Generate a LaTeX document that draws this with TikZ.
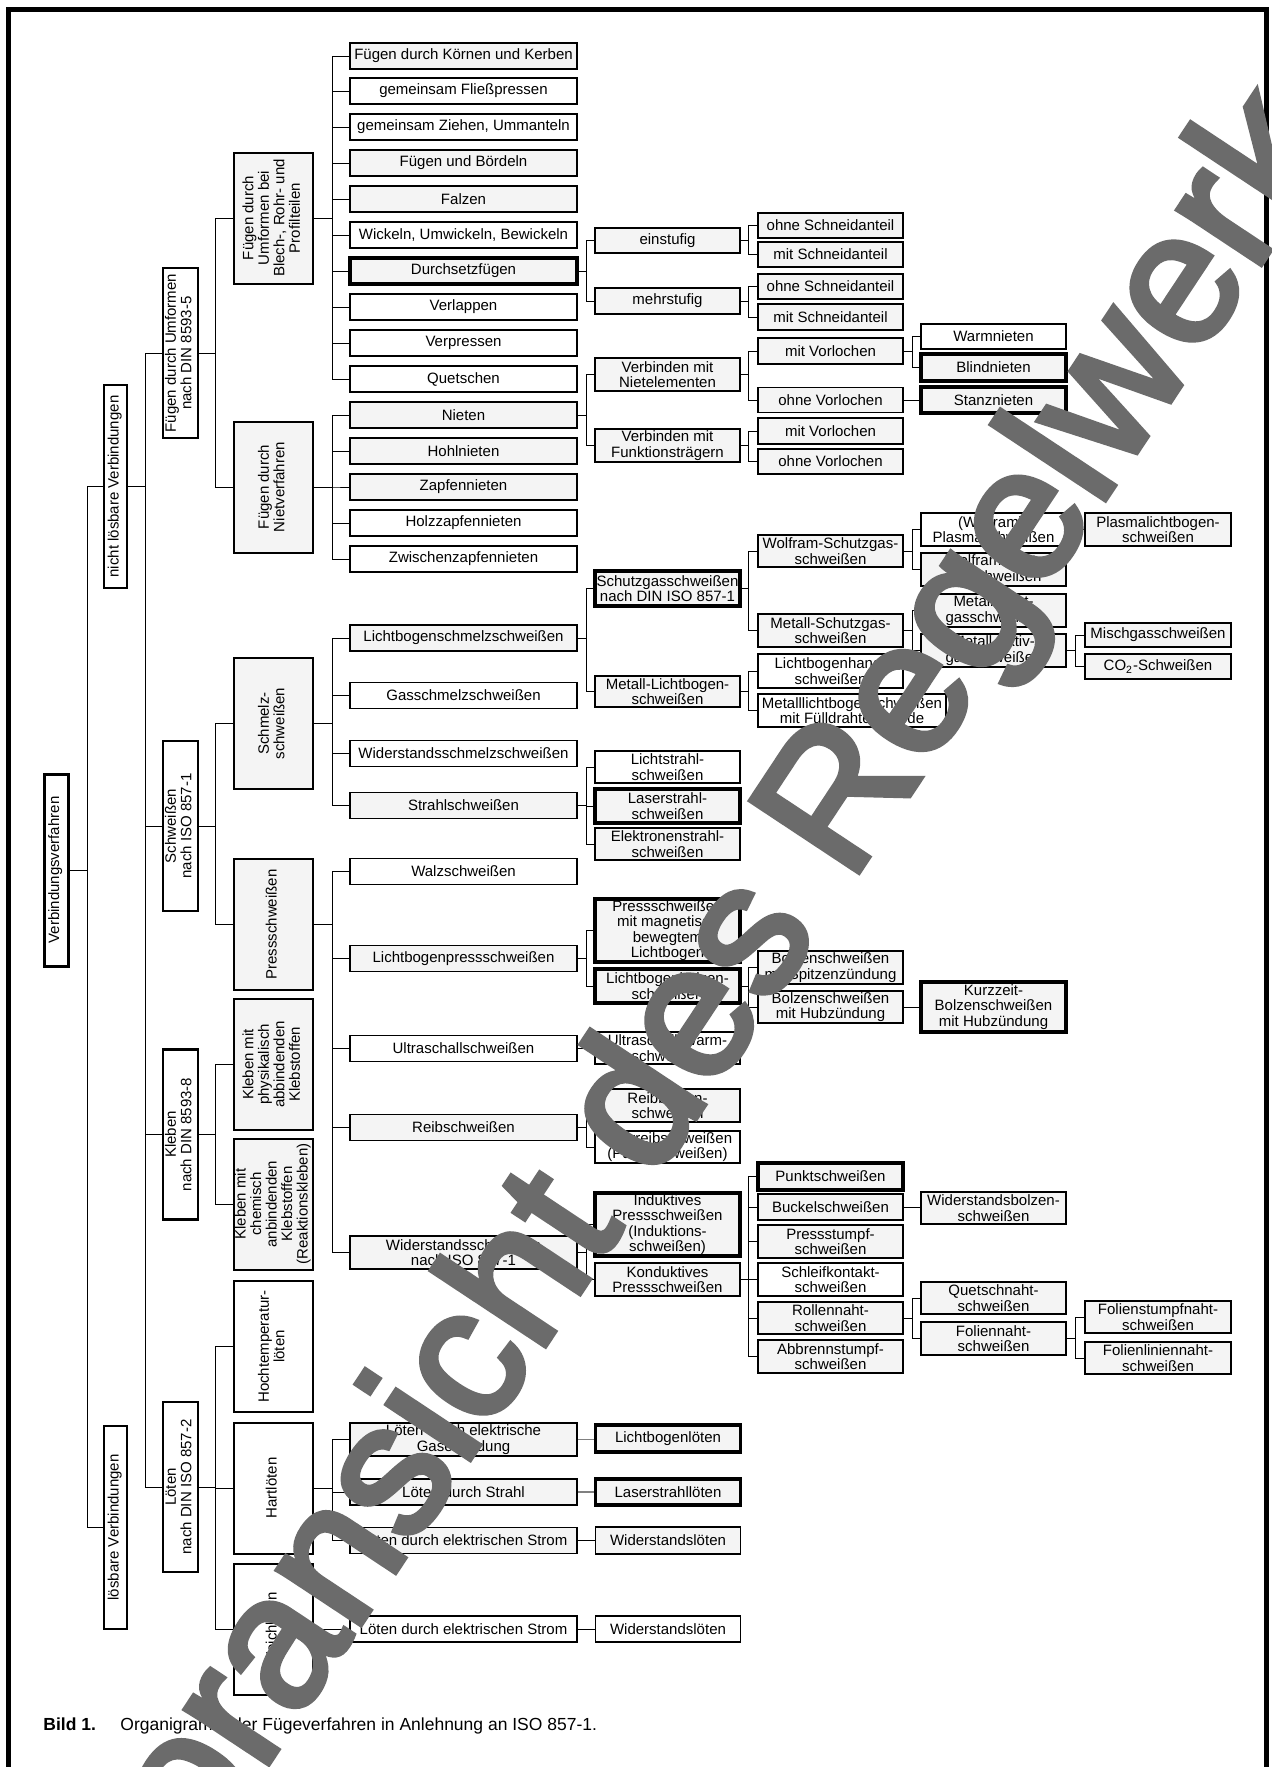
\documentclass[tikz,border=0pt]{standalone}
\usepackage{fontspec}
\setmainfont{Liberation Sans}
\newfontfamily\wmfont[FakeBold=3]{Liberation Sans}
\usepackage{graphicx}
\definecolor{gf}{HTML}{F4F4F4}
\definecolor{wm}{HTML}{6B6B6B}
\newcommand{\vt}[1]{\rotatebox{90}{\begin{tabular}{@{}c@{}}#1\end{tabular}}}
\newcommand{\cn}[3]{\draw[ln] (#1.east) -- (#1.east -| #2) |- (#3.west);}
\newcommand{\dn}[2]{\draw[ln] (#1.east) -- (#1.east -| #2.west);}
\tikzset{
 bx/.style={draw, inner sep=0pt, align=center, font=\fontsize{7.5}{7.7}\selectfont, fill=white},
 gr/.style={fill=gf},
 ca/.style={bx, line width=0.9pt, minimum width=113.5pt, minimum height=13pt},
 cb/.style={bx, line width=0.6pt, minimum width=72.5pt},
 ce/.style={bx, line width=0.6pt, minimum width=73pt},
 tk/.style={line width=1.7pt},
 grp/.style={bx, line width=1pt, minimum width=39.5pt, minimum height=65.5pt, fill=gf},
 lvtwo/.style={bx, line width=1.4pt, minimum width=17.5pt, minimum height=85pt},
 lvone/.style={bx, line width=0.6pt, minimum width=11.5pt, minimum height=101.5pt},
 ln/.style={line width=0.5pt},
 lgr/.style={line width=0.6pt, gray},
 wmk/.style={rotate=56.5, inner sep=0pt, text=wm, font=\wmfont\fontsize{94}{94}\selectfont},
}
\begin{document}
\begin{tikzpicture}[x=0.5pt,y=-0.5pt]
\path[use as bounding box] (0,0) rectangle (1272,1767);
\clip (0,0) rectangle (1272,1767);
\fill[white] (0,0) rectangle (1272,1767);
\draw[line width=2.5pt] (8.5,1800) -- (8.5,9) -- (1266,9) -- (1266,1800);

% bus coordinates
\coordinate (k0) at (87,0);
\coordinate (k1) at (145,0);
\coordinate (k2) at (215,0);
\coordinate (k3) at (332,0);
\coordinate (k4) at (586,0);
\coordinate (k5) at (748,0);
\coordinate (k6) at (912,0);
\coordinate (k7) at (1075,0);

% root and levels
\node[bx, line width=1.5pt, minimum width=12pt, minimum height=96pt] (root) at (56,870) {\vt{Verbindungsverfahren}};
\node[lvone] (nl) at (115.5,486.5) {\vt{nicht lösbare Verbindungen}};
\node[lvone] (lb) at (115.5,1527.5) {\vt{lösbare Verbindungen}};
\node[lvtwo] (fu) at (180.5,353) {\vt{Fügen durch Umformen\\nach DIN 8593-5}};
\node[lvtwo] (sw) at (180.5,826) {\vt{Schweißen\\nach ISO 857-1}};
\node[lvtwo] (kl) at (180.5,1134.5) {\vt{Kleben\\nach DIN 8593-8}};
\node[lvtwo] (lo) at (180.5,1487) {\vt{Löten\\nach DIN ISO 857-2}};

% groups
\node[grp] (g1) at (273.5,218) {\vt{Fügen durch\\Umformen bei\\Blech-, Rohr- und\\Profilteilen}};
\node[grp] (g2) at (273.5,487) {\vt{Fügen durch\\Nietverfahren}};
\node[grp] (g3) at (273.5,723.5) {\vt{Schmelz-\\schweißen}};
\node[grp] (g4) at (273.5,924.5) {\vt{Pressschweißen}};
\node[grp] (g5) at (273.5,1064.5) {\vt{Kleben mit\\physikalisch\\abbindenden\\Klebstoffen}};
\node[grp] (g6) at (273.5,1204) {\vt{Kleben mit\\chemisch\\anbindenden\\Klebstoffen\\(Reaktionskleben)}};
\node[grp, fill=white] (g7) at (273.5,1346.5) {\vt{Hochtemperatur-\\löten}};
\node[grp, fill=white] (g8) at (273.5,1488) {\vt{Hartlöten}};
\node[grp, fill=white] (g9) at (273.5,1629.5) {\vt{Weichlöten}};

% column A
\node[ca,gr] (a1) at (463.5,56) {Fügen durch Körnen und Kerben};
\node[ca] (a2) at (463.5,91) {gemeinsam Fließpressen};
\node[ca] (a3) at (463.5,127) {gemeinsam Ziehen, Ummanteln};
\node[ca,gr] (a4) at (463.5,163) {Fügen und Bördeln};
\node[ca,gr] (a5) at (463.5,199) {Falzen};
\node[ca] (a6) at (463.5,235) {Wickeln, Umwickeln, Bewickeln};
\node[ca,gr,tk] (a7) at (463.5,271) {Durchsetzfügen};
\node[ca] (a8) at (463.5,307) {Verlappen};
\node[ca] (a9) at (463.5,343) {Verpressen};
\node[ca] (a10) at (463.5,379) {Quetschen};
\node[ca,gr] (a11) at (463.5,415) {Nieten};
\node[ca,gr] (a12) at (463.5,451) {Hohlnieten};
\node[ca,gr] (a13) at (463.5,487) {Zapfennieten};
\node[ca] (a14) at (463.5,523) {Holzzapfennieten};
\node[ca] (a15) at (463.5,559) {Zwischenzapfennieten};
\node[ca,gr] (a16) at (463.5,638) {Lichtbogenschmelzschweißen};
\node[ca] (a17) at (463.5,695.5) {Gasschmelzschweißen};
\node[ca] (a18) at (463.5,753.5) {Widerstandsschmelzschweißen};
\node[ca,gr] (a19) at (463.5,805.5) {Strahlschweißen};
\node[ca] (a20) at (463.5,871.5) {Walzschweißen};
\node[ca,gr] (a21) at (463.5,958.5) {Lichtbogenpressschweißen};
\node[ca] (a22) at (463.5,1048.5) {Ultraschallschweißen};
\node[ca,gr] (a23) at (463.5,1127.5) {Reibschweißen};
\node[ca,gr,minimum height=16.5pt] (a24) at (463.5,1252.5) {Widerstandsschweißen\\nach ISO 857-1};
\node[ca,gr,minimum height=16.5pt] (a25) at (463.5,1439.5) {Löten durch elektrische\\Gasentladung};
\node[ca,gr] (a26) at (463.5,1492) {Löten durch Strahl};
\node[ca,gr] (a27) at (463.5,1540.5) {Löten durch elektrischen Strom};
\node[ca] (a28) at (463.5,1629) {Löten durch elektrischen Strom};

% column B
\node[cb,gr,minimum height=12.5pt] (b1) at (667.5,240.5) {einstufig};
\node[cb,gr,minimum height=13pt] (b2) at (667.5,301) {mehrstufig};
\node[cb,gr,minimum height=16.5pt] (b3) at (667.5,374.5) {Verbinden mit\\Nietelementen};
\node[cb,gr,minimum height=16.5pt] (b4) at (667.5,445.5) {Verbinden mit\\Funktionsträgern};
\node[cb,gr,tk,minimum height=17.5pt] (b5) at (667.5,588.5) {Schutzgasschweißen\\nach DIN ISO 857-1};
\node[cb,gr,minimum height=15.5pt] (b6) at (667.5,691.5) {Metall-Lichtbogen-\\schweißen};
\node[cb,minimum height=16pt] (b7) at (667.5,767) {Lichtstrahl-\\schweißen};
\node[cb,gr,tk,minimum height=17pt] (b8) at (667.5,806) {Laserstrahl-\\schweißen};
\node[cb,gr,minimum height=16pt] (b9) at (667.5,844) {Elektronenstrahl-\\schweißen};
\node[cb,gr,tk,minimum height=31.5pt] (b10) at (667.5,930.5) {Pressschweißen\\mit magnetisch\\bewegtem\\Lichtbogen};
\node[cb,gr,tk,minimum height=17pt] (b11) at (667.5,986) {Lichtbogenbolzen-\\schweißen};
\node[cb,minimum height=16pt] (b12) at (667.5,1048) {Ultraschall-Warm-\\schweißen};
\node[cb,gr,minimum height=16.5pt] (b13) at (667.5,1105.5) {Reibbolzen-\\schweißen};
\node[cb,minimum height=16pt] (b14) at (667.5,1147) {Rührreibschweißen\\(Punktschweißen)};
\node[cb,gr,tk,minimum height=31.5pt] (b15) at (667.5,1224.5) {Induktives\\Pressschweißen\\(Induktions-\\schweißen)};
\node[cb,gr,minimum height=16.5pt] (b16) at (667.5,1279.5) {Konduktives\\Pressschweißen};
\node[cb,gr,tk,minimum height=13.5pt] (b17) at (668,1438.5) {Lichtbogenlöten};
\node[cb,gr,tk,minimum height=13pt] (b18) at (668,1492) {Laserstrahllöten};
\node[cb,gr,line width=0.9pt,minimum height=13.5pt] (b19) at (668,1540.5) {Widerstandslöten};
\node[cb,line width=0.9pt,minimum height=13pt] (b20) at (668,1629) {Widerstandslöten};

% column C
\node[cb,gr,minimum height=12.5pt] (c1) at (830.5,225.5) {ohne Schneidanteil};
\node[cb,gr,minimum height=12.5pt] (c2) at (830.5,254.5) {mit Schneidanteil};
\node[cb,gr,minimum height=12.5pt] (c3) at (830.5,286.5) {ohne Schneidanteil};
\node[cb,gr,minimum height=13pt] (c4) at (830.5,317) {mit Schneidanteil};
\node[cb,gr,minimum height=13pt] (c5) at (830.5,351) {mit Vorlochen};
\node[cb,gr,minimum height=12.5pt] (c6) at (830.5,400) {ohne Vorlochen};
\node[cb,gr,minimum height=13pt] (c7) at (830.5,431) {mit Vorlochen};
\node[cb,gr,minimum height=12.5pt] (c8) at (830.5,461.5) {ohne Vorlochen};
\node[cb,gr,minimum height=16pt] (c9) at (830.5,551) {Wolfram-Schutzgas-\\schweißen};
\node[cb,gr,minimum height=16.5pt] (c10) at (830.5,630.5) {Metall-Schutzgas-\\schweißen};
\node[cb,minimum height=17pt] (c11) at (830.5,671) {Lichtbogenhand-\\schweißen};
\node[cb,minimum width=94pt,minimum height=16.5pt] (c12) at (852,710.5) {Metalllichtbogenschweißen\\mit Fülldrahtelektrode};
\node[cb,gr,minimum height=16.5pt] (c13) at (830.5,967.5) {Bolzenschweißen\\mit Spitzenzündung};
\node[cb,gr,minimum height=16pt] (c14) at (830.5,1007) {Bolzenschweißen\\mit Hubzündung};
\node[cb,gr,tk,minimum height=13.5pt] (c15) at (830.5,1176.5) {Punktschweißen};
\node[cb,gr,minimum height=13pt] (c16) at (830.5,1207) {Buckelschweißen};
\node[cb,gr,minimum height=16.5pt] (c17) at (830.5,1241.5) {Pressstumpf-\\schweißen};
\node[cb,minimum height=16.5pt] (c18) at (830.5,1279.5) {Schleifkontakt-\\schweißen};
\node[cb,gr,minimum height=16pt] (c19) at (830.5,1318) {Rollennaht-\\schweißen};
\node[cb,gr,minimum height=16.5pt] (c20) at (830.5,1356.5) {Abbrennstumpf-\\schweißen};

% column D
\node[cb,minimum height=12.5pt] (d1) at (993.5,336.5) {Warmnieten};
\node[cb,gr,tk,minimum height=13.5pt] (d2) at (993.5,367.5) {Blindnieten};
\node[cb,gr,tk,minimum height=13pt] (d3) at (993.5,400) {Stanznieten};
\node[cb,minimum height=16.5pt] (d4) at (993.5,529.5) {(Wolfram)-\\Plasmaschweißen};
\node[cb,gr,minimum height=16.5pt] (d5) at (993.5,569.5) {Wolfram-Inert-\\gasschweißen};
\node[cb,gr,minimum height=16.5pt] (d6) at (993.5,610.5) {Metall-Inert-\\gasschweißen};
\node[cb,gr,minimum height=16.5pt] (d7) at (993.5,650.5) {Metall-Aktiv-\\gasschweißen};
\node[cb,gr,tk,minimum height=25pt] (d8) at (993.5,1007) {Kurzzeit-\\Bolzenschweißen\\mit Hubzündung};
\node[cb,gr,minimum height=16pt] (d9) at (993.5,1208) {Widerstandsbolzen-\\schweißen};
\node[cb,gr,minimum height=16pt] (d10) at (993.5,1298) {Quetschnaht-\\schweißen};
\node[cb,gr,minimum height=16.5pt] (d11) at (993.5,1338.5) {Foliennaht-\\schweißen};

% column E
\node[ce,gr,minimum height=16.5pt] (e1) at (1158,529.5) {Plasmalichtbogen-\\schweißen};
\node[ce,gr,minimum height=12pt] (e2) at (1158,635) {Mischgasschweißen};
\node[ce,gr,minimum height=12.5pt] (e3) at (1158,666.5) {CO\textsubscript{2}-Schweißen};
\node[ce,gr,minimum height=16pt] (e4) at (1158,1317) {Folienstumpfnaht-\\schweißen};
\node[ce,gr,minimum height=16pt] (e5) at (1158,1358) {Folienliniennaht-\\schweißen};

% connectors
\cn{root}{k0}{nl} \cn{root}{k0}{lb}
\cn{nl}{k1}{fu} \cn{nl}{k1}{sw} \cn{nl}{k1}{kl} \cn{nl}{k1}{lo}
\cn{fu}{k2}{g1} \cn{fu}{k2}{g2}
\cn{sw}{k2}{g3} \cn{sw}{k2}{g4}
\cn{kl}{k2}{g5} \cn{kl}{k2}{g6}
\cn{lo}{k2}{g7} \cn{lo}{k2}{g8} \cn{lo}{k2}{g9}
\foreach \i in {1,...,10} {\cn{g1}{k3}{a\i}}
\foreach \i in {11,...,15} {\cn{g2}{k3}{a\i}}
\foreach \i in {16,...,19} {\cn{g3}{k3}{a\i}}
\foreach \i in {20,...,24} {\cn{g4}{k3}{a\i}}
\foreach \i in {25,...,27} {\cn{g8}{k3}{a\i}}
\dn{g9}{a28}
\cn{a7}{k4}{b1} \cn{a7}{k4}{b2}
\cn{a11}{k4}{b3} \cn{a11}{k4}{b4}
\cn{a16}{k4}{b5} \cn{a16}{k4}{b6}
\cn{a19}{k4}{b7} \cn{a19}{k4}{b8} \cn{a19}{k4}{b9}
\cn{a21}{k4}{b10} \cn{a21}{k4}{b11}
\dn{a22}{b12}
\cn{a23}{k4}{b13} \cn{a23}{k4}{b14}
\cn{a24}{k4}{b15} \cn{a24}{k4}{b16}
\draw[lgr] (a25.east) -- (a25.east -| b17.west);
\draw[lgr] (a26.east) -- (a26.east -| b18.west);
\dn{a27}{b19} \dn{a28}{b20}
\cn{b1}{k5}{c1} \cn{b1}{k5}{c2}
\cn{b2}{k5}{c3} \cn{b2}{k5}{c4}
\cn{b3}{k5}{c5} \cn{b3}{k5}{c6}
\cn{b4}{k5}{c7} \cn{b4}{k5}{c8}
\cn{b5}{k5}{c9} \cn{b5}{k5}{c10}
\cn{b6}{k5}{c11} \cn{b6}{k5}{c12}
\cn{b11}{k5}{c13} \cn{b11}{k5}{c14}
\foreach \i in {15,...,20} {\cn{b16}{k5}{c\i}}
\cn{c5}{k6}{d1} \cn{c5}{k6}{d2}
\dn{c6}{d3}
\cn{c9}{k6}{d4} \cn{c9}{k6}{d5}
\cn{c10}{k6}{d6} \cn{c10}{k6}{d7}
\dn{c14}{d8}
\dn{c16}{d9}
\cn{c19}{k6}{d10} \cn{c19}{k6}{d11}
\dn{d4}{e1}
\cn{d7}{k7}{e2} \cn{d7}{k7}{e3}
\cn{d11}{k7}{e4} \cn{d11}{k7}{e5}

% caption
\node[anchor=base west, inner sep=0pt, font=\fontsize{8.75}{10}\selectfont\bfseries] (cap1) at (43,1730) {Bild 1.};
\node[anchor=base west, inner sep=0pt, font=\fontsize{8.75}{10}\selectfont] (cap2) at (120,1730) {Organigramm der Fügeverfahren in Anlehnung an ISO 857-1.};

% watermark
\node[wmk, anchor=base west] (wmA) at (850,885) {Regelwerkes};
\node[wmk, anchor=base east] (wmB) at (850,885) {Voransicht des\kern0.28em};
\end{tikzpicture}
\end{document}
